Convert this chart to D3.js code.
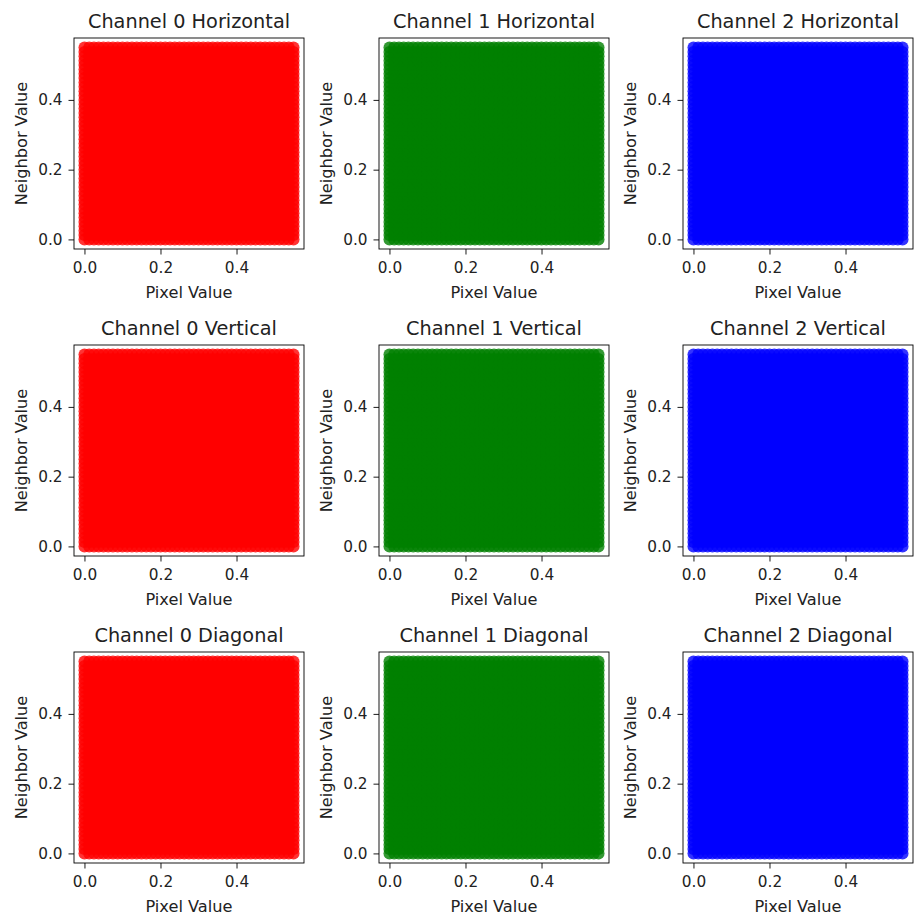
<!DOCTYPE html>
<html>
<head>
<meta charset="utf-8">
<script src="https://cdn.jsdelivr.net/npm/d3@7"></script>
<style>
body { margin: 0; background: #fff; }
text { font-family: "DejaVu Sans", sans-serif; fill: #222; }
</style>
</head>
<body>
<div id="chart"></div>
<script>
// data
const channels = ["Channel 0", "Channel 1", "Channel 2"];
const directions = ["Horizontal", "Vertical", "Diagonal"];
const channelColors = ["#ff0000", "#008000", "#0000ff"];
const pixelLevels = [0, 0.0125, 0.025, 0.0375, 0.05, 0.0625, 0.075, 0.0875, 0.1, 0.1125, 0.125,
  0.1375, 0.15, 0.1625, 0.175, 0.1875, 0.2, 0.2125, 0.225, 0.2375, 0.25, 0.2625, 0.275, 0.2875,
  0.3, 0.3125, 0.325, 0.3375, 0.35, 0.3625, 0.375, 0.3875, 0.4, 0.4125, 0.425, 0.4375, 0.45,
  0.4625, 0.475, 0.4875, 0.5, 0.5125, 0.525, 0.5375, 0.55];
const neighborLevels = [0, 0.0125, 0.025, 0.0375, 0.05, 0.0625, 0.075, 0.0875, 0.1, 0.1125, 0.125,
  0.1375, 0.15, 0.1625, 0.175, 0.1875, 0.2, 0.2125, 0.225, 0.2375, 0.25, 0.2625, 0.275, 0.2875,
  0.3, 0.3125, 0.325, 0.3375, 0.35, 0.3625, 0.375, 0.3875, 0.4, 0.4125, 0.425, 0.4375, 0.45,
  0.4625, 0.475, 0.4875, 0.5, 0.5125, 0.525, 0.5375, 0.55];
const xTicks = [0.0, 0.2, 0.4];
const yTicks = [0.0, 0.2, 0.4];

let W = 922, H = 919;
let svg = d3.select("#chart").append("svg").attr("width", W).attr("height", H);

let colLeft = [74, 379, 683], rowTop = [38, 345, 652];
let pw = 230, ph = 211;

let pts = [];
pixelLevels.forEach(px => neighborLevels.forEach(nv => pts.push([px, nv])));

function padDomain(arr) {
  let ext = d3.extent(arr);
  let m = (ext[1] - ext[0]) * 0.05;
  return [ext[0] - m, ext[1] + m];
}

let x = d3.scaleLinear().domain(padDomain(pixelLevels)).range([0, pw]);
let y = d3.scaleLinear().domain(padDomain(neighborLevels)).range([ph, 0]);

directions.forEach((dir, r) => {
  channels.forEach((ch, c) => {
    let g = svg.append("g").attr("transform", "translate(" + colLeft[c] + "," + rowTop[r] + ")");

    g.append("g").selectAll("circle").data(pts).enter().append("circle")
      .attr("cx", d => x(d[0]))
      .attr("cy", d => y(d[1]))
      .attr("r", 6)
      .attr("fill", channelColors[c])
      .attr("fill-opacity", 0.8);

    g.append("rect").attr("width", pw).attr("height", ph)
      .attr("fill", "none").attr("stroke", "#000").attr("stroke-width", 0.9);

    let ax = g.append("g").attr("transform", "translate(0," + ph + ")")
      .call(d3.axisBottom(x).tickValues(xTicks).tickFormat(d3.format(".1f")).tickSize(5.5).tickPadding(8).tickSizeOuter(0));
    let ay = g.append("g")
      .call(d3.axisLeft(y).tickValues(yTicks).tickFormat(d3.format(".1f")).tickSize(5.5).tickPadding(6).tickSizeOuter(0));
    [ax, ay].forEach(a => {
      a.select(".domain").remove();
      a.selectAll("line").attr("stroke", "#000").attr("stroke-width", 0.9);
      a.selectAll("text").style("font-size", "15.3px").attr("font-family", "DejaVu Sans").attr("fill", "#222");
    });

    g.append("text").attr("x", pw / 2).attr("y", -10.5)
      .attr("text-anchor", "middle").style("font-size", "19.3px")
      .text(ch + " " + dir);

    g.append("text").attr("x", pw / 2).attr("y", ph + 48.5)
      .attr("text-anchor", "middle").style("font-size", "16.2px")
      .text("Pixel Value");

    g.append("text").attr("transform", "translate(-47," + ph / 2 + ") rotate(-90)")
      .attr("text-anchor", "middle").style("font-size", "16.2px")
      .text("Neighbor Value");
  });
});
</script>
</body>
</html>
